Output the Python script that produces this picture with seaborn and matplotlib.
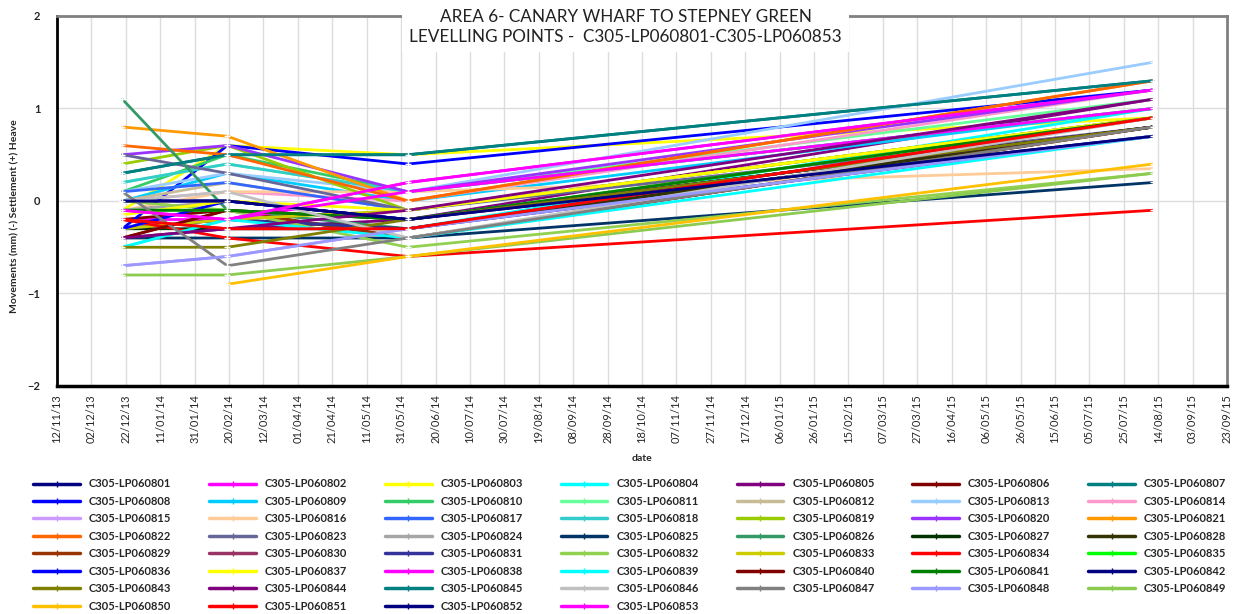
import pandas as pd
import seaborn as sns
import matplotlib.pyplot as plt
import matplotlib.dates as mdates
import numpy as np

# Survey dates
dates = pd.to_datetime(['2013-12-20', '2014-02-19', '2014-06-04', '2015-08-11'])

# Levelling points and their readings (mm) at the four survey dates
points = ['C305-LP0608%02d' % i for i in range(1, 54)]

movements = {
    'C305-LP060801': [0.0, 0.0, -0.2, 0.7],
    'C305-LP060802': [-0.2, -0.2, 0.2, 1.2],
    'C305-LP060803': [-0.1, 0.6, 0.5, 0.9],
    'C305-LP060804': [-0.5, -0.2, -0.3, 1.0],
    'C305-LP060805': [-0.4, -0.3, -0.2, 1.1],
    'C305-LP060806': [-0.2, -0.1, -0.4, 0.8],
    'C305-LP060807': [0.3, 0.5, 0.5, 1.3],
    'C305-LP060808': [-0.3, 0.6, 0.4, 1.2],
    'C305-LP060809': [0.0, 0.3, 0.0, 1.0],
    'C305-LP060810': [0.1, 0.5, 0.1, 1.0],
    'C305-LP060811': [0.2, 0.4, 0.1, 1.1],
    'C305-LP060812': [0.0, 0.2, -0.1, 0.9],
    'C305-LP060813': [0.1, 0.3, 0.1, 1.5],
    'C305-LP060814': [0.0, 0.1, 0.0, 1.2],
    'C305-LP060815': [-0.7, -0.6, -0.3, 0.7],
    'C305-LP060816': [-0.1, 0.1, 0.1, 0.35],
    'C305-LP060817': [0.1, 0.2, -0.1, 0.9],
    'C305-LP060818': [0.2, 0.4, 0.1, 1.0],
    'C305-LP060819': [0.4, 0.6, -0.1, 0.9],
    'C305-LP060820': [0.5, 0.6, 0.1, 1.2],
    'C305-LP060821': [0.8, 0.7, 0.0, 1.3],
    'C305-LP060822': [0.6, 0.5, 0.0, 1.3],
    'C305-LP060823': [0.5, 0.3, -0.1, 0.8],
    'C305-LP060824': [-0.1, 0.0, -0.2, 0.8],
    'C305-LP060825': [-0.4, -0.4, -0.4, 0.2],
    'C305-LP060826': [1.1, -0.1, -0.3, 0.8],
    'C305-LP060827': [-0.3, -0.3, -0.3, 0.8],
    'C305-LP060828': [-0.3, -0.2, -0.3, 0.8],
    'C305-LP060829': [-0.4, -0.1, -0.4, 0.8],
    'C305-LP060830': [-0.2, -0.3, -0.3, 0.9],
    'C305-LP060831': [-0.3, -0.2, -0.3, 0.7],
    'C305-LP060832': [0.0, -0.1, -0.5, 0.3],
    'C305-LP060833': [-0.3, -0.2, -0.1, 0.9],
    'C305-LP060834': [-0.2, -0.4, -0.6, -0.1],
    'C305-LP060835': [-0.1, -0.1, -0.2, 0.9],
    'C305-LP060836': [-0.3, 0.0, -0.2, 0.8],
    'C305-LP060837': [-0.15, 0.0, -0.1, 0.9],
    'C305-LP060838': [-0.1, -0.2, 0.1, 1.0],
    'C305-LP060839': [-0.5, -0.2, -0.4, 0.7],
    'C305-LP060840': [-0.4, -0.1, -0.2, 0.8],
    'C305-LP060841': [-0.1, -0.1, -0.2, 0.9],
    'C305-LP060842': [0.0, 0.0, -0.2, 0.8],
    'C305-LP060843': [-0.5, -0.5, -0.2, 0.8],
    'C305-LP060844': [-0.4, -0.3, -0.1, 1.1],
    'C305-LP060845': [0.3, 0.5, 0.5, 1.3],
    'C305-LP060846': [0.0, 0.1, -0.4, 0.9],
    'C305-LP060847': [0.1, -0.7, -0.4, 0.8],
    'C305-LP060848': [-0.7, -0.6, -0.3, 0.7],
    'C305-LP060849': [-0.8, -0.8, -0.6, 0.3],
    'C305-LP060850': [np.nan, -0.9, -0.6, 0.4],
    'C305-LP060851': [-0.2, -0.3, -0.3, 0.9],
    'C305-LP060852': [0.0, 0.0, -0.2, 0.7],
    'C305-LP060853': [-0.1, -0.2, 0.2, 1.2],
}

colours = ['#000080', '#FF00FF', '#FFFF00', '#00FFFF', '#800080', '#800000', '#008080',
           '#0000FF', '#00CCFF', '#33CC66', '#66FF99', '#C8BC96', '#99CCFF', '#FF99CC',
           '#CC99FF', '#FFCC99', '#3366FF', '#33CCCC', '#99CC00', '#9933FF', '#FF9900',
           '#FF6600', '#666699', '#A6A6A6', '#003366', '#339966', '#003300', '#333300',
           '#993300', '#993366', '#333399', '#92D050', '#CCCC00', '#FF0000', '#00FF00',
           '#0000FF', '#FFFF00', '#FF00FF', '#00FFFF', '#800000', '#008000', '#000080',
           '#808000', '#800080', '#008080', '#C0C0C0', '#808080', '#9999FF', '#8BCB4F',
           '#FFC000', '#FF0000', '#000080', '#FF00FF']
palette = dict(zip(points, colours))

# long format for seaborn
df = pd.DataFrame(movements, index=dates).reset_index(names='date')
df = df.melt(id_vars='date', var_name='point', value_name='movement').dropna()

sns.set_style('white')
plt.rcParams['font.family'] = ['Lato', 'DejaVu Sans']

fig = plt.figure(figsize=(12.39, 6.14), dpi=100)
ax = fig.add_axes([57 / 1239, 1 - 386 / 614, 1170 / 1239, 370 / 614])

sns.lineplot(data=df, x='date', y='movement', hue='point', hue_order=points,
             palette=palette, marker='+', markersize=5, markeredgewidth=1,
             linewidth=2, ax=ax, legend=False, estimator=None, sort=False)

ax.set_xlim(pd.Timestamp('2013-11-12'), pd.Timestamp('2015-09-23'))
ax.set_ylim(-2, 2)
ticks = pd.date_range('2013-11-12', '2015-09-23', freq='20D')
ax.set_xticks(ticks)
ax.xaxis.set_major_formatter(mdates.DateFormatter('%d/%m/%y'))
ax.set_yticks([-2, -1, 0, 1, 2])
ax.tick_params(axis='x', rotation=90, labelsize=8, direction='in', length=4, pad=6)
ax.tick_params(axis='y', labelsize=8, length=0, pad=12)
for t in ax.get_yticklabels():
    t.set_fontweight('bold')
ax.grid(True, color='#DCDCDC', linewidth=1)

ax.spines['left'].set_color('black')
ax.spines['left'].set_linewidth(2)
ax.spines['bottom'].set_color('black')
ax.spines['bottom'].set_linewidth(2.5)
ax.spines['top'].set_color('#808080')
ax.spines['top'].set_linewidth(2)
ax.spines['right'].set_color('#808080')
ax.spines['right'].set_linewidth(2)

ax.set_xlabel('date', fontsize=7.5, fontweight='bold', labelpad=8)
ax.set_ylabel('Movements (mm) (-) Settlement (+) Heave', fontsize=7.5, fontweight='bold')
ax.yaxis.set_label_coords(-0.032, 0.46)

fig.text(0.505, 1 - 27 / 614,
         'AREA 6- CANARY WHARF TO STEPNEY GREEN\nLEVELLING POINTS -  C305-LP060801-C305-LP060853',
         ha='center', va='center', fontsize=12.3, color='#222222', linespacing=1.35,
         bbox=dict(facecolor='white', edgecolor='none', pad=5))

# legend, reordered so it reads row by row like the original
ncol = 7
order = [r * ncol + c for c in range(ncol) for r in range(8) if r * ncol + c < len(points)]
handles = [plt.Line2D([], [], color=palette[points[i]], linewidth=2.5, marker='+',
                      markersize=5) for i in order]
labels = [points[i] for i in order]
fig.legend(handles, labels, loc='upper left', bbox_to_anchor=(29 / 1239, 1 - 474 / 614),
           ncol=ncol, frameon=False, prop={'size': 8, 'weight': 'bold'},
           handlelength=4.2, handletextpad=0.8, columnspacing=3.4,
           labelspacing=0.58, borderaxespad=0)

fig.savefig('out.png', dpi=100)
